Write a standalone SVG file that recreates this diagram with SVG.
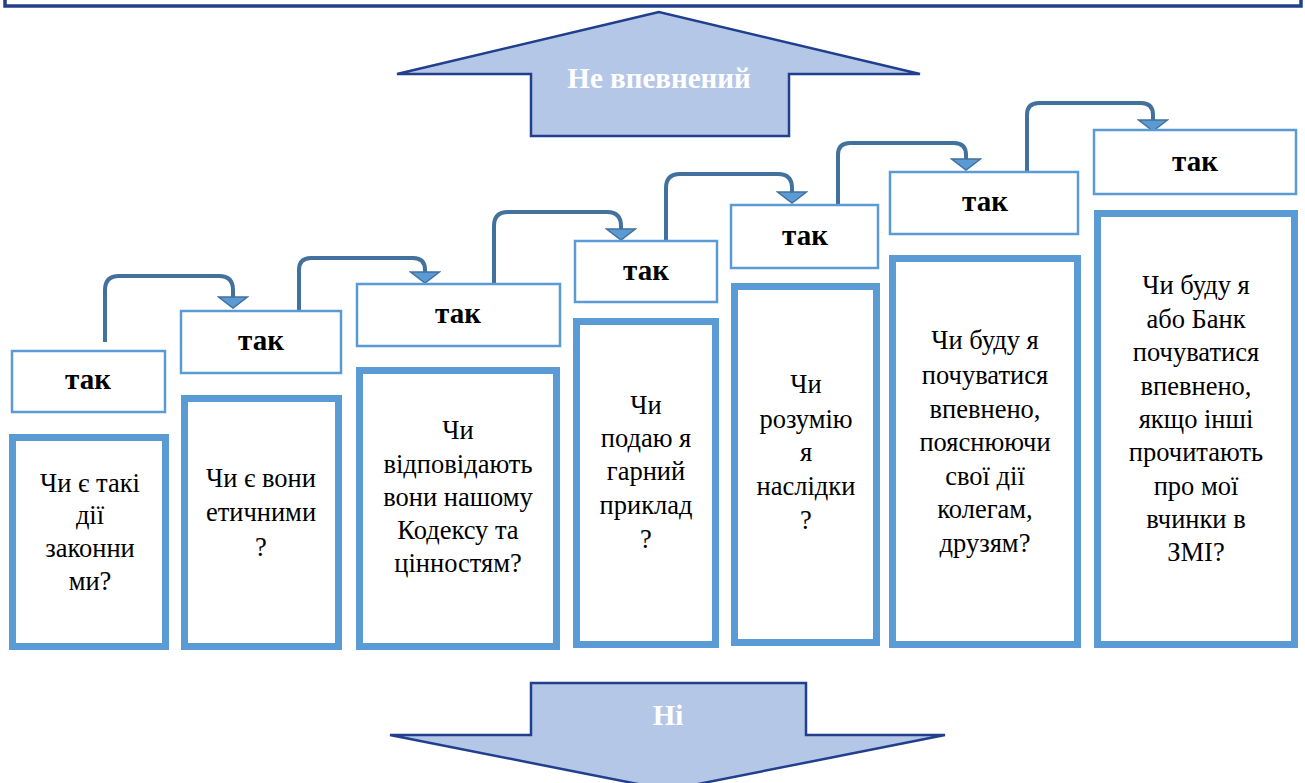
<svg xmlns="http://www.w3.org/2000/svg" width="1305" height="783" viewBox="0 0 1305 783">
<style>
.frame{fill:none;stroke:#203f8d;stroke-width:3.5}
.big{fill:#b4c7e7;stroke:#203f8d;stroke-width:2.5;stroke-linejoin:miter}
.bigt{font-family:'Liberation Serif','Times New Roman',serif;font-weight:bold;font-size:29px;fill:#ffffff;text-anchor:middle}
.yes{fill:#ffffff;stroke:#5b9bd5;stroke-width:2.5}
.yest{font-family:'Liberation Serif','Times New Roman',serif;font-weight:bold;font-size:29px;fill:#000000;text-anchor:middle}
.q{fill:#ffffff;stroke:#5b9bd5;stroke-width:7}
.qt{font-family:'Liberation Serif','Times New Roman',serif;font-size:26.5px;fill:#000000;text-anchor:middle}
.con{fill:none;stroke:#41719c;stroke-width:4}
</style>
<defs>
<marker id="ah" viewBox="-1 -16 13 32" refX="0" refY="0" markerWidth="13" markerHeight="32" markerUnits="userSpaceOnUse" orient="90">
<path d="M0,-14.5 L11,0 L0,14.5 Z" fill="#5b9bd5" stroke="#41719c" stroke-width="1.5"/>
</marker>
</defs>
<rect width="1305" height="783" fill="#ffffff"/>
<g id="frame"><rect class="frame" x="5" y="-10" width="1296" height="16"/></g>
<g id="up-arrow">
<polygon class="big" points="659,12 397,74 531,74 531,136 789,136 789,74 920,74"/>
<text class="bigt" x="659" y="88">Не впевнений</text>
</g>
<g id="down-arrow">
<polygon class="big" points="531,683 806,683 806,735 945,735 668,790 390,735 531,735"/>
<text class="bigt" x="668" y="725">Ні</text>
</g>
<g id="connectors">
<path class="con" marker-end="url(#ah)" d="M105,342 V290 Q105,276 119,276 H219 Q233,276 233,290 V297"/>
<path class="con" marker-end="url(#ah)" d="M299,311 V270 Q299,258 311,258 H413 Q425,258 425,270 V272"/>
<path class="con" marker-end="url(#ah)" d="M494,284 V226 Q494,212 508,212 H607 Q621,212 621,226 V229"/>
<path class="con" marker-end="url(#ah)" d="M666,241 V188 Q666,174 680,174 H778 Q792,174 792,188 V192"/>
<path class="con" marker-end="url(#ah)" d="M838,205 V155 Q838,143 850,143 H954 Q966,143 966,155 V159"/>
<path class="con" marker-end="url(#ah)" d="M1027,172 V115 Q1027,103 1039,103 H1141 Q1153,103 1153,115 V120"/>
</g>
<g id="yes1"><rect class="yes" x="12" y="351" width="153" height="61"/><text class="yest" x="88" y="389">так</text></g>
<g id="yes2"><rect class="yes" x="181" y="311" width="160" height="62"/><text class="yest" x="261" y="350">так</text></g>
<g id="yes3"><rect class="yes" x="357" y="284" width="203" height="62"/><text class="yest" x="458" y="323">так</text></g>
<g id="yes4"><rect class="yes" x="575" y="241" width="142" height="61"/><text class="yest" x="646" y="280">так</text></g>
<g id="yes5"><rect class="yes" x="731" y="205" width="147" height="63"/><text class="yest" x="805" y="245">так</text></g>
<g id="yes6"><rect class="yes" x="890" y="172" width="188" height="62"/><text class="yest" x="985" y="211">так</text></g>
<g id="yes7"><rect class="yes" x="1094" y="130" width="202" height="64"/><text class="yest" x="1195" y="171">так</text></g>
<g id="q1"><rect class="q" x="12.5" y="437.5" width="153" height="209"/>
<text class="qt"><tspan x="90" y="492">Чи є такі</tspan><tspan x="90" y="524">дії</tspan><tspan x="90" y="557">законни</tspan><tspan x="90" y="590">ми?</tspan></text></g>
<g id="q2"><rect class="q" x="184.5" y="398.5" width="154" height="248"/>
<text class="qt"><tspan x="261" y="487">Чи є вони</tspan><tspan x="261" y="521">етичними</tspan><tspan x="261" y="556">?</tspan></text></g>
<g id="q3"><rect class="q" x="359.5" y="370.5" width="197" height="276"/>
<text class="qt"><tspan x="458" y="439">Чи</tspan><tspan x="458" y="473">відповідають</tspan><tspan x="458" y="506">вони нашому</tspan><tspan x="458" y="539">Кодексу та</tspan><tspan x="458" y="572">цінностям?</tspan></text></g>
<g id="q4"><rect class="q" x="576.5" y="321.5" width="139" height="323"/>
<text class="qt"><tspan x="646" y="414">Чи</tspan><tspan x="646" y="447">подаю я</tspan><tspan x="646" y="480">гарний</tspan><tspan x="646" y="514">приклад</tspan><tspan x="646" y="548">?</tspan></text></g>
<g id="q5"><rect class="q" x="734.5" y="286.5" width="142" height="356"/>
<text class="qt"><tspan x="806" y="393">Чи</tspan><tspan x="806" y="428">розумію</tspan><tspan x="806" y="461">я</tspan><tspan x="806" y="495">наслідки</tspan><tspan x="806" y="529">?</tspan></text></g>
<g id="q6"><rect class="q" x="892.5" y="258.5" width="185" height="386"/>
<text class="qt"><tspan x="985" y="349">Чи буду я</tspan><tspan x="985" y="384">почуватися</tspan><tspan x="985" y="418">впевнено,</tspan><tspan x="985" y="451">пояснюючи</tspan><tspan x="985" y="485">свої дії</tspan><tspan x="985" y="518">колегам,</tspan><tspan x="985" y="552">друзям?</tspan></text></g>
<g id="q7"><rect class="q" x="1097.5" y="213.5" width="197" height="431"/>
<text class="qt"><tspan x="1196" y="294">Чи буду я</tspan><tspan x="1196" y="328">або Банк</tspan><tspan x="1196" y="361">почуватися</tspan><tspan x="1196" y="395">впевнено,</tspan><tspan x="1196" y="428">якщо інші</tspan><tspan x="1196" y="461">прочитають</tspan><tspan x="1196" y="495">про мої</tspan><tspan x="1196" y="528">вчинки в</tspan><tspan x="1196" y="561">ЗМІ?</tspan></text></g>
</svg>
